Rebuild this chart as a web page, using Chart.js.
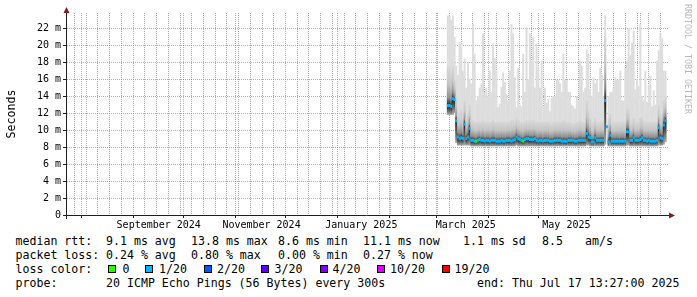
<!DOCTYPE html>
<html>
<head>
<meta charset="utf-8">
<title>SmokePing 360 days</title>
<script src="https://cdn.jsdelivr.net/npm/chart.js@4.4.1/dist/chart.umd.min.js"></script>
<style>
  html, body { margin: 0; padding: 0; background: #fff; }
  #wrap { position: relative; width: 697px; height: 297px; overflow: hidden; background: #fff; }
  #chart { position: absolute; left: 0; top: 0; }
  .lg { position: absolute; font-family: "DejaVu Sans Mono", monospace; font-size: 11.6px; line-height: 14px; color: #000; white-space: pre; }
  .box { position: absolute; width: 6px; height: 6px; border: 1px solid #000; }
  #wm { position: absolute; left: 683px; top: 4px; writing-mode: vertical-rl; font-family: "DejaVu Sans Mono", monospace; font-size: 8.3px; line-height: 10px; color: #b8b8b8; white-space: pre; }
</style>
</head>
<body>
<div id="wrap">
  <canvas id="chart" width="697" height="232"></canvas>
  <div id="legend"></div>
  <div id="wm">RRDTOOL / TOBI OETIKER</div>
</div>
<script>
// days counted from 1 Aug 2024; first sample is day 219 (8 Mar 2025)
const firstDay = 219;

// median rtt per day (ms)
const median = [
  12.9,12.9,12.8,13.7,13.6,11.1,9.2,9.0,9.1,9.0,
  10.7,9.0,9.2,10.2,8.8,8.8,8.7,8.7,8.8,8.9,
  8.8,8.8,8.7,8.8,8.8,8.7,8.8,8.8,8.8,8.7,
  8.7,8.7,8.8,8.7,8.7,8.8,8.8,8.8,8.7,8.8,
  8.9,9.2,9.0,8.9,8.8,8.7,8.9,9.0,9.0,8.9,
  8.9,8.9,9.0,8.8,8.7,8.8,8.8,8.7,8.8,8.8,
  8.8,8.7,8.7,8.7,8.8,8.8,8.8,8.8,8.7,8.7,
  8.7,8.7,8.8,8.8,8.8,8.8,8.7,8.7,8.8,8.8,
  8.8,8.8,8.8,9.6,9.2,9.1,8.6,8.6,9.1,8.8,
  8.8,8.8,8.8,8.8,13.5,10.4,8.6,9.4,8.7,8.7,
  8.7,8.7,8.7,8.7,8.7,8.7,8.7,9.8,9.8,8.8,
  8.8,9.1,8.8,8.8,8.8,8.9,9.1,8.8,8.8,8.7,
  8.8,8.7,8.7,8.7,8.7,8.8,10.3,9.1,9.0,10.6,
  11.1
];

// highest ping per day (top of the light smoke)
const pingMax = [
  23.5,23.5,23.0,23.5,21.0,17.6,16.5,20.4,20.2,17.0,
  18.4,15.0,18.0,16.0,15.5,22.5,19.0,13.5,14.0,15.0,
  15.5,21.4,14.5,15.0,14.0,17.0,14.5,20.2,18.5,17.0,
  12.7,13.1,15.1,16.8,15.7,14.3,13.5,17.0,22.5,21.4,
  16.2,12.7,17.3,13.0,12.8,19.0,14.5,22.1,16.0,21.4,
  18.2,21.0,15.0,20.2,17.5,15.0,18.2,12.8,15.0,13.2,
  13.7,12.2,13.8,14.0,14.0,15.9,15.9,15.5,14.5,19.0,
  15.9,15.9,14.5,14.5,13.0,12.8,12.5,14.0,13.5,18.2,
  17.6,14.5,15.0,19.5,19.0,14.8,14.0,16.2,15.5,15.9,
  14.5,17.3,16.5,14.0,23.5,null,14.0,14.5,14.5,15.0,
  16.2,15.9,15.9,17.0,13.5,13.5,17.3,18.2,22.0,18.8,
  20.3,21.7,14.8,16.0,15.2,22.5,14.0,13.5,17.0,13.3,
  15.3,16.4,12.8,14.7,13.0,18.2,19.4,21.4,20.8,17.0,
  17.0
];

// top of the dense (dark) part of the smoke
const pingUpper = [
  17.5,17.5,17.0,17.5,16.0,14.0,12.0,12.0,12.5,11.5,
  13.5,11.5,12.0,13.0,11.2,11.2,11.0,11.0,11.0,11.0,
  11.0,11.2,11.0,11.0,11.0,11.0,11.0,11.2,11.0,11.0,
  11.0,11.0,11.0,11.0,11.0,11.0,11.0,11.0,11.2,11.2,
  11.0,11.5,11.2,11.0,11.0,11.0,11.0,11.2,11.0,11.2,
  11.0,11.2,11.0,11.0,11.0,11.0,11.0,11.0,11.0,11.0,
  11.0,10.8,10.8,11.0,11.0,11.0,11.0,11.0,11.0,11.2,
  11.0,11.0,11.0,11.0,10.8,10.8,10.8,11.0,11.0,11.2,
  11.0,11.0,11.0,13.5,12.5,11.5,11.0,11.0,11.5,11.0,
  11.0,11.0,11.0,11.0,21.0,null,11.5,12.0,11.0,11.0,
  11.0,11.0,11.0,11.0,11.0,11.0,11.0,12.5,12.5,11.0,
  11.0,11.5,11.0,11.0,11.0,11.5,11.5,11.0,11.0,11.0,
  11.0,11.0,11.0,11.0,11.0,11.0,13.0,12.0,12.0,13.5,
  14.0
];

// lowest ping per day (bottom of the smoke)
const pingMin = [
  11.8,11.8,11.8,11.8,12.0,8.5,8.2,8.2,8.2,8.2,
  8.2,8.2,8.2,8.2,8.1,8.1,8.1,8.1,8.1,8.1,
  8.1,8.1,8.1,8.1,8.1,8.1,8.1,8.1,8.1,8.1,
  8.1,8.1,8.1,8.1,8.1,8.1,8.1,8.1,8.1,8.1,
  8.1,8.2,8.1,8.1,8.1,8.1,8.1,8.1,8.1,8.1,
  8.1,8.1,8.1,8.1,8.1,8.1,8.1,8.1,8.1,8.1,
  8.1,8.1,8.1,8.1,8.1,8.1,8.1,8.1,8.1,8.1,
  8.1,8.1,8.1,8.1,8.1,8.1,8.1,8.1,8.1,8.1,
  8.1,8.1,8.1,8.2,8.2,8.1,8.1,8.1,8.1,8.1,
  8.1,8.1,8.1,8.1,8.3,null,8.1,8.1,8.1,8.1,
  8.1,8.1,8.1,8.1,8.1,8.1,8.1,8.2,8.2,8.1,
  8.1,8.1,8.1,8.1,8.1,8.1,8.1,8.1,8.1,8.1,
  8.1,8.1,8.1,8.1,8.1,8.1,8.2,8.2,8.2,8.3,
  8.6
];

// lost pings (out of 20) per day
const lossCount = [
  1,1,1,1,1,1,1,1,1,1,
  1,1,1,1,1,1,1,0,1,1,
  1,1,1,1,1,1,1,1,1,1,
  1,1,1,1,1,1,1,1,1,1,
  1,1,1,1,1,0,1,1,1,1,
  1,1,1,1,1,1,1,1,1,1,
  1,1,1,1,1,1,1,1,1,1,
  1,1,1,1,1,1,1,1,1,1,
  1,1,1,1,1,1,1,1,1,1,
  1,1,1,1,1,1,1,1,1,1,
  1,1,1,1,1,1,1,1,1,1,
  1,1,1,1,1,1,1,1,1,1,
  1,1,1,1,1,1,1,1,1,1,
  1
];

const lossSteps  = [0, 1, 2, 3, 4, 10, 19];
const lossLabels = ["0", "1/20", "2/20", "3/20", "4/20", "10/20", "19/20"];
const lossColors = ["#26ff00", "#00b8ff", "#0059ff", "#5e00ff", "#7e00ff", "#dd00ff", "#ff0000"];

const rttStats  = ["9.1 ms avg", "13.8 ms max", "8.6 ms min", "11.1 ms now", "1.1 ms sd", "8.5", "am/s"];
const lossStats = ["0.24 % avg", "0.80 % max", "0.00 % min", "0.27 % now"];
const probeText = "20 ICMP Echo Pings (56 Bytes) every 300s";
const endText   = "end: Thu Jul 17 13:27:00 2025";

// x axis: days since 1 Aug 2024
const xMin = -8.5, xMax = 350.5;
const monthDays  = [0, 31, 61, 92, 122, 153, 184, 212, 243, 273, 304, 334];
const firstSunday = -4;
const labelDays  = [46.3, 107.7, 167.3, 229.7, 289.8];
const labelText  = ["September 2024", "November 2024", "January 2025", "March 2025", "May 2025"];

// y axis (ms)
const yMax = 23.8;
const yTicks = [0,1,2,3,4,5,6,7,8,9,10,11,12,13,14,15,16,17,18,19,20,21,22,23];

const FONT = '"DejaVu Sans Mono", monospace';
const GRID = "rgba(143,143,143,0.75)";
const MGRID = "rgba(222,79,79,0.6)";
const AXIS = "rgb(31,31,31)";
const ARROW = "rgb(128,31,31)";

function lossColor(n) {
  let idx = 0;
  lossSteps.forEach((s, i) => { if (n >= s) idx = i; });
  return lossColors[idx];
}

function smokeFill(c) {
  const chart = c.chart;
  const i = c.dataIndex;
  const y = chart.scales.y;
  if (!y || !chart.chartArea || pingUpper[i] == null) return "#b0b0b0";
  const yTop = y.getPixelForValue(pingUpper[i]);
  const yMed = y.getPixelForValue(median[i]);
  const yLow = y.getPixelForValue(pingMin[i]);
  let t = (yMed - yTop) / (yLow - yTop);
  t = Math.min(Math.max(t, 0.05), 0.95);
  const g = chart.ctx.createLinearGradient(0, yTop, 0, yLow);
  g.addColorStop(0, "#d8d8d8");
  g.addColorStop(t * 0.45, "#c4c4c4");
  g.addColorStop(t * 0.8, "#8c8c8c");
  g.addColorStop(t, "#1c1c1c");
  g.addColorStop(t + (1 - t) * 0.4, "#4a4a4a");
  g.addColorStop(1, "#a8a8a8");
  return g;
}

const rrdAxes = {
  id: "rrdAxes",
  afterDraw(chart) {
    const ctx = chart.ctx, a = chart.chartArea;
    ctx.save();
    ctx.strokeStyle = AXIS;
    ctx.lineWidth = 1;
    ctx.beginPath();
    ctx.moveTo(a.left - 4, a.bottom + 0.5);
    ctx.lineTo(a.right + 2, a.bottom + 0.5);
    ctx.moveTo(a.left - 0.5, a.bottom + 4);
    ctx.lineTo(a.left - 0.5, a.top - 1);
    ctx.stroke();
    ctx.fillStyle = ARROW;
    ctx.beginPath();
    ctx.moveTo(a.left - 0.5, a.top - 6);
    ctx.lineTo(a.left - 3.5, a.top);
    ctx.lineTo(a.left + 2.5, a.top);
    ctx.closePath();
    ctx.fill();
    ctx.beginPath();
    ctx.moveTo(a.right + 7, a.bottom + 0.5);
    ctx.lineTo(a.right + 1, a.bottom - 2.5);
    ctx.lineTo(a.right + 1, a.bottom + 3.5);
    ctx.closePath();
    ctx.fill();
    ctx.restore();
  }
};

function xTickValues() {
  const vals = new Set(monthDays);
  for (let d = firstSunday; d <= xMax; d += 7) vals.add(d);
  labelDays.forEach(d => vals.add(d));
  return Array.from(vals).sort((a, b) => a - b);
}

function createChart() {
  const lightData = median.map((m, i) => ({ x: firstDay + i, y: pingMax[i] == null ? null : [pingMin[i], pingMax[i]] }));
  const denseData = median.map((m, i) => ({ x: firstDay + i, y: pingUpper[i] == null ? null : [pingMin[i], pingUpper[i]] }));
  const medData = median.map((m, i) => ({ x: firstDay + i, y: m == null ? null : [m - 0.18, m + 0.18] }));

  new Chart(document.getElementById("chart"), {
    type: "bar",
    data: {
      datasets: [
        { label: "median", data: medData, order: 1,
          backgroundColor: c => lossColor(lossCount[c.dataIndex]) },
        { label: "smoke", data: denseData, order: 2, backgroundColor: smokeFill },
        { label: "max", data: lightData, order: 3, backgroundColor: "#dddddd" }
      ]
    },
    options: {
      responsive: false,
      animation: false,
      events: [],
      layout: { padding: { left: 0, top: 13, right: 29, bottom: 0 } },
      plugins: { legend: { display: false }, tooltip: { enabled: false } },
      datasets: { bar: { grouped: false, barThickness: 2, borderWidth: 0, inflateAmount: 0 } },
      scales: {
        x: {
          type: "linear", min: xMin, max: xMax, offset: false, z: 1,
          afterBuildTicks: s => { s.ticks = xTickValues().map(v => ({ value: v })); },
          afterFit: s => { s.height = 17; },
          grid: {
            offset: false,
            lineWidth: 1,
            tickLength: 3,
            color: c => {
              const v = c.tick ? c.tick.value : null;
              if (monthDays.includes(v)) return MGRID;
              if (labelDays.includes(v)) return "rgba(0,0,0,0)";
              return GRID;
            },
            tickColor: c => monthDays.includes(c.tick ? c.tick.value : null) ? AXIS : "rgba(0,0,0,0)"
          },
          border: { display: false, dash: [1, 1] },
          ticks: {
            autoSkip: false, maxRotation: 0, minRotation: 0, padding: 1,
            color: "#000", font: { family: FONT, size: 10 },
            callback: v => { const k = labelDays.indexOf(v); return k >= 0 ? labelText[k] : ""; }
          }
        },
        y: {
          min: 0, max: yMax, z: 1,
          afterBuildTicks: s => { s.ticks = yTicks.map(v => ({ value: v })); },
          afterFit: s => { s.width = 67; },
          grid: {
            lineWidth: 1,
            tickLength: 4,
            color: c => (c.tick && c.tick.value % 2 === 1) ? GRID : MGRID,
            tickColor: c => (c.tick && c.tick.value % 2 === 1) ? "rgba(0,0,0,0)" : AXIS
          },
          border: { display: false, dash: [1, 1] },
          title: { display: true, text: "Seconds", color: "#000", font: { family: FONT, size: 11.6 }, padding: { top: 5.5, bottom: 0 } },
          ticks: {
            padding: 2, color: "#000", font: { family: FONT, size: 10 },
            callback: v => v % 2 === 1 ? "" : (v === 0 ? "0" : v + " m")
          }
        }
      }
    },
    plugins: [rrdAxes]
  });
}

function addText(parent, text, x, y) {
  const el = document.createElement("div");
  el.className = "lg";
  el.style.left = x + "px";
  el.style.top = y + "px";
  el.textContent = text;
  parent.appendChild(el);
}

function buildLegend() {
  const lg = document.getElementById("legend");
  const rttX = [106, 191, 278, 363, 463, 542, 585];
  const lossX = [106, 191, 278, 363];
  const boxX = [108, 145, 203.5, 261, 319.5, 377, 442];
  const lblX = [122.5, 159, 217, 274.5, 332.5, 390, 454.5];

  addText(lg, "median rtt:", 15.5, 234);
  rttStats.forEach((t, i) => addText(lg, t, rttX[i], 234));

  addText(lg, "packet loss:", 15.5, 248);
  lossStats.forEach((t, i) => addText(lg, t, lossX[i], 248));

  addText(lg, "loss color:", 15.5, 262);
  lossLabels.forEach((t, i) => {
    const b = document.createElement("div");
    b.className = "box";
    b.style.left = boxX[i] + "px";
    b.style.top = "265px";
    b.style.background = lossColors[i];
    lg.appendChild(b);
    addText(lg, t, lblX[i], 262);
  });

  addText(lg, "probe:", 15.5, 276);
  addText(lg, probeText, 106, 276);
  addText(lg, endText, 477, 276);
}

document.addEventListener("DOMContentLoaded", () => {
  createChart();
  buildLegend();
});
</script>
</body>
</html>
